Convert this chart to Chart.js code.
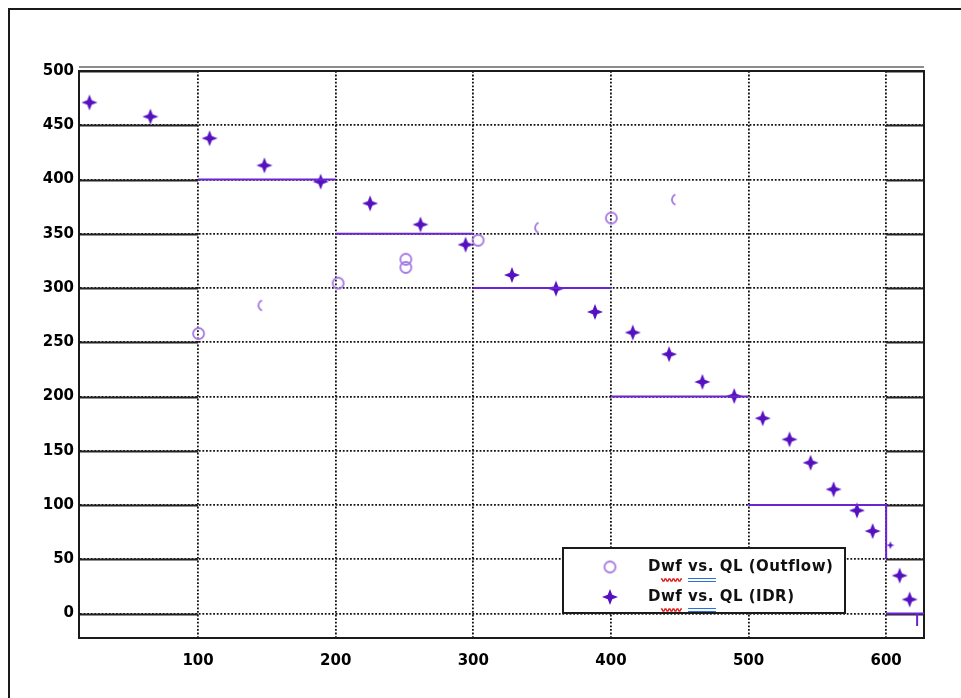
<!DOCTYPE html>
<html>
<head>
<meta charset="utf-8">
<title>Dwf vs. QL</title>
<script src="https://cdn.jsdelivr.net/npm/chart.js@4.4.1/dist/chart.umd.min.js"></script>
<style>
    html, body { margin: 0; padding: 0; background: #fff; overflow: hidden; }
    #frame {
        position: absolute; left: 8px; top: 8px; width: 1000px; height: 1000px;
        border-left: 2px solid #1a1a1a; border-top: 2px solid #1a1a1a;
    }
    #chart { position: absolute; left: 0; top: 0; }
</style>
</head>
<body>
<div id="frame"></div>
<canvas id="chart" width="961" height="698"></canvas>
<script>
// Dwf vs. QL, outflow readings
const outflowQL = [100.4, 147.9, 201.8, 251.0, 251.0, 303.5, 348.9, 400.3, 448.3];
const outflowDwf = [258, 284, 304.5, 326.5, 319, 344, 355.5, 364.5, 381.5];

// Dwf vs. QL, IDR curve
const idrQL = [21.1, 65.4, 108.4, 148.2, 189.1, 225.0, 261.6, 294.4, 328.1, 360.1, 388.4, 415.9,
               442.3, 466.5, 489.6, 510.3, 529.8, 545.1, 561.8, 578.8, 590.2, 603.1, 609.8, 617.1];
const idrDwf = [471, 458, 438, 413, 398, 378, 358.5, 340, 312, 299.5, 278, 259,
                239, 213.5, 200.5, 180, 160.5, 139, 114.5, 95, 76, 63, 35, 13];

// stepped limit line, null splits the segments
const stepQL  = [100, 200, null, 200, 300, null, 300, 400, null, 400, 500, null, 500, 600, 600, null, 600, 627.5, null, 622.5, 622.5];
const stepDwf = [400, 400, null, 350, 350, null, 300, 300, null, 200, 200, null, 100, 100, 50, null, 0, 0, null, 0, -11.5];

const xTicks = [100, 200, 300, 400, 500, 600];
const yTicks = [0, 50, 100, 150, 200, 250, 300, 350, 400, 450, 500];

const legendLabels = ['Dwf vs. QL (Outflow)', 'Dwf vs. QL (IDR)'];

const STAR_COLOR = '#5510c0';
const STEP_COLOR = '#6a24d4';
const RING_COLOR = '#a578e4';
const GRID_COLOR = '#111';

// outflow points that only came out as a left arc
const faintOutflow = [1, 6, 8];
// small IDR mark sitting on the step line
const smallIdr = [21];

function starImage(r, color) {
    const c = document.createElement('canvas');
    c.width = c.height = 2 * r + 2;
    const g = c.getContext('2d');
    const m = r + 1, k = r * 0.28;
    g.fillStyle = color;
    g.beginPath();
    g.moveTo(m, m - r);
    g.lineTo(m + k, m - k);
    g.lineTo(m + r, m);
    g.lineTo(m + k, m + k);
    g.lineTo(m, m + r);
    g.lineTo(m - k, m + k);
    g.lineTo(m - r, m);
    g.lineTo(m - k, m - k);
    g.closePath();
    g.fill();
    return c;
}

function ringImage(r, color, from, to) {
    const c = document.createElement('canvas');
    c.width = c.height = 2 * r + 4;
    const g = c.getContext('2d');
    g.strokeStyle = color;
    g.lineWidth = 1.8;
    g.beginPath();
    g.arc(r + 2, r + 2, r, from, to);
    g.stroke();
    return c;
}

const star = starImage(8, STAR_COLOR);
const smallStar = starImage(4, STAR_COLOR);
const ring = ringImage(5.5, RING_COLOR, 0, Math.PI * 2);
const arc = ringImage(5.5, RING_COLOR, Math.PI * 0.62, Math.PI * 1.38);

const toPoints = (xs, ys) => xs.map((x, i) => ({ x: x === null ? xs[i - 1] : x, y: ys[i] }));

// solid ends on the horizontal grid lines plus the full box round the plot
const frameLines = {
    id: 'frameLines',
    beforeDatasetsDraw(chart) {
        const { ctx, chartArea: a, scales: { x, y } } = chart;
        const xl = x.getPixelForValue(xTicks[0]);
        const xr = x.getPixelForValue(xTicks[xTicks.length - 1]);
        ctx.save();
        ctx.strokeStyle = '#222';
        ctx.lineWidth = 2;
        yTicks.forEach(v => {
            const py = Math.round(y.getPixelForValue(v)) + 0.5;
            ctx.beginPath();
            ctx.moveTo(a.left, py); ctx.lineTo(xl, py);
            ctx.moveTo(xr, py); ctx.lineTo(a.right, py);
            ctx.stroke();
        });
        ctx.lineWidth = 2;
        ctx.strokeStyle = '#1a1a1a';
        ctx.strokeRect(a.left, a.top, a.right - a.left, a.bottom - a.top);
        ctx.strokeStyle = '#666';
        ctx.lineWidth = 1.5;
        ctx.beginPath();
        ctx.moveTo(a.left, a.top - 4); ctx.lineTo(a.right, a.top - 4);
        ctx.stroke();
        ctx.restore();
    }
};

// boxed legend in the lower right, with the spell-check marks under the text
const boxLegend = {
    id: 'boxLegend',
    afterDraw(chart) {
        const { ctx } = chart;
        const bx = 563, by = 548, bw = 282, bh = 65;
        ctx.save();
        ctx.fillStyle = '#fff';
        ctx.fillRect(bx, by, bw, bh);
        ctx.strokeStyle = '#1a1a1a';
        ctx.lineWidth = 2;
        ctx.strokeRect(bx, by, bw, bh);

        const rows = [by + 19, by + 49];
        ctx.drawImage(ring, 610 - ring.width / 2, rows[0] - ring.height / 2);
        ctx.drawImage(star, 610 - star.width / 2, rows[1] - star.height / 2);

        ctx.font = 'bold 15px "DejaVu Sans"';
        ctx.letterSpacing = '0.5px';
        ctx.fillStyle = '#111';
        ctx.textBaseline = 'middle';
        legendLabels.forEach((label, i) => {
            const tx = 648, ty = rows[i];
            ctx.fillText(label, tx, ty);
            const w0 = ctx.measureText('D').width;
            const w1 = ctx.measureText('Dwf').width;
            const w2 = ctx.measureText('Dwf ').width;
            const w3 = ctx.measureText('Dwf vs.').width;
            // red wavy line under "wf"
            ctx.strokeStyle = '#e21c1c';
            ctx.lineWidth = 1.4;
            ctx.beginPath();
            for (let px = tx + w0; px <= tx + w1; px += 1) {
                const wy = ty + 12 + (Math.floor((px - tx - w0) / 2) % 2 ? 2 : 0);
                if (px === tx + w0) ctx.moveTo(px, wy); else ctx.lineTo(px, wy);
            }
            ctx.stroke();
            // blue double line under "vs."
            ctx.strokeStyle = '#2f6ee0';
            ctx.lineWidth = 1.2;
            ctx.beginPath();
            ctx.moveTo(tx + w2, ty + 11.5); ctx.lineTo(tx + w3 + 2, ty + 11.5);
            ctx.moveTo(tx + w2, ty + 14.5); ctx.lineTo(tx + w3 + 2, ty + 14.5);
            ctx.stroke();
        });
        ctx.restore();
    }
};

const tickFont = { family: 'DejaVu Sans', size: 15, weight: 'bold' };

new Chart(document.getElementById('chart'), {
    type: 'scatter',
    data: {
        datasets: [
            {
                label: 'step',
                data: toPoints(stepQL, stepDwf),
                showLine: true,
                spanGaps: false,
                borderColor: STEP_COLOR,
                borderWidth: 2,
                pointRadius: 0
            },
            {
                label: legendLabels[0],
                data: toPoints(outflowQL, outflowDwf),
                pointStyle: outflowQL.map((_, i) => faintOutflow.includes(i) ? arc : ring)
            },
            {
                label: legendLabels[1],
                data: toPoints(idrQL, idrDwf),
                pointStyle: idrQL.map((_, i) => smallIdr.includes(i) ? smallStar : star)
            }
        ]
    },
    options: {
        responsive: false,
        animation: false,
        layout: { padding: { left: 19, top: 71, right: 37, bottom: 15 } },
        plugins: {
            legend: { display: false },
            tooltip: { enabled: false }
        },
        scales: {
            x: {
                type: 'linear',
                min: 13.5,
                max: 627.5,
                afterBuildTicks: s => { s.ticks = xTicks.map(v => ({ value: v })); },
                afterFit: s => { s.height = 45; },
                grid: { color: GRID_COLOR, lineWidth: 1.8, drawTicks: false },
                border: { color: '#1a1a1a', width: 2, dash: [1.8, 1.8] },
                ticks: { color: '#000', font: tickFont, padding: 14, maxRotation: 0 }
            },
            y: {
                type: 'linear',
                min: -22.5,
                max: 500,
                afterBuildTicks: s => { s.ticks = yTicks.map(v => ({ value: v })); },
                afterFit: s => { s.width = 60; },
                grid: { color: GRID_COLOR, lineWidth: 1.8, drawTicks: false },
                border: { color: '#1a1a1a', width: 2, dash: [1.8, 1.8] },
                ticks: { color: '#000', font: tickFont, padding: 5 }
            }
        }
    },
    plugins: [frameLines, boxLegend]
});
</script>
</body>
</html>
